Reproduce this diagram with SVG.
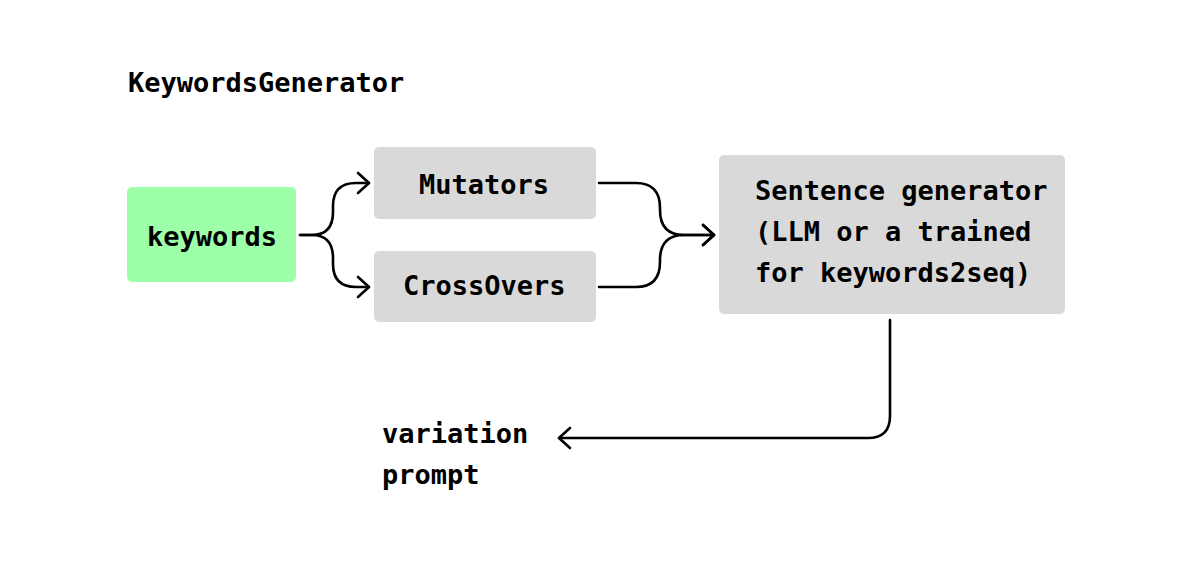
<svg xmlns="http://www.w3.org/2000/svg" width="1192" height="563" viewBox="0 0 1192 563">
<style>
text{font-family:"DejaVu Sans Mono","Liberation Mono",monospace;font-weight:bold;font-size:27px;fill:#000}
.box{fill:#d9d9d9}
.green{fill:#9effa9}
.conn{fill:none;stroke:#000;stroke-width:2.6;stroke-linecap:round;stroke-linejoin:round}
</style>
<defs>
<marker id="arr" viewBox="-14 -12 16 24" markerWidth="16" markerHeight="24" refX="0" refY="0" orient="auto" markerUnits="userSpaceOnUse">
<path d="M-11,-10 L0,0 L-11,10" fill="none" stroke="#000" stroke-width="2.6" stroke-linecap="round" stroke-linejoin="round"/>
</marker>
</defs>
<rect width="1192" height="563" fill="#fff"/>
<g id="title"><text x="128" y="92">KeywordsGenerator</text></g>
<g id="keywords"><rect class="green" x="127" y="187" width="169" height="95" rx="5"/><text x="147" y="246">keywords</text></g>
<g id="mutators"><rect class="box" x="374" y="147" width="222" height="72" rx="5"/><text x="419" y="194">Mutators</text></g>
<g id="crossovers"><rect class="box" x="374" y="251" width="222" height="71" rx="5"/><text x="403" y="295">CrossOvers</text></g>
<g id="sentence"><rect class="box" x="719" y="155" width="346" height="159" rx="5"/><text x="755" y="200">Sentence generator</text><text x="755" y="241">(LLM or a trained</text><text x="755" y="282">for keywords2seq)</text></g>
<g id="output"><text x="382" y="443">variation</text><text x="382" y="484">prompt</text></g>
<g id="connectors">
<path class="conn" d="M300 235 L312 235 Q333 235 333 212 L333 206 Q333 183 356 183 L369 183" marker-end="url(#arr)"/>
<path class="conn" d="M300 235 L312 235 Q333 235 333 258 L333 264 Q333 287 356 287 L369 287" marker-end="url(#arr)"/>
<path class="conn" d="M599 183 L636 183 Q660 183 660 208 L660 210 Q660 235 684 235 L714 235" marker-end="url(#arr)"/>
<path class="conn" d="M599 287 L636 287 Q660 287 660 262 L660 260 Q660 235 684 235 L714 235" marker-end="url(#arr)"/>
<path class="conn" d="M890 320 L890 416 Q890 438 868 438 L559 438" marker-end="url(#arr)"/>
</g>
</svg>
